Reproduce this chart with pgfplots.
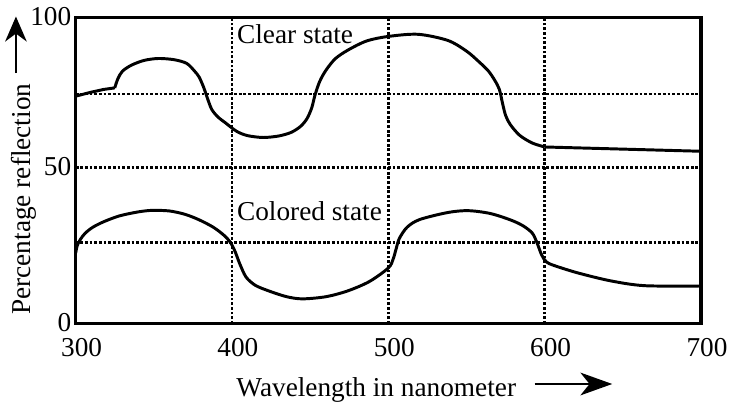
\documentclass[border=0pt]{standalone}
\usepackage{fontspec}
\setmainfont{Liberation Serif}
\usepackage{pgfplots}
\pgfplotsset{compat=1.18}
\usetikzlibrary{arrows.meta}
\begin{document}
\begin{tikzpicture}[font=\fontsize{12}{14.4}\selectfont]
\begin{axis}[
  scale only axis, width=275.1pt, height=134.7pt,
  xmin=300, xmax=700, ymin=0, ymax=100,
  xtick={300,400,500,600,700},
  ytick={0,26.5,51,75,100}, yticklabels={0,,50,,100},
  major tick length=0pt,
  grid=major,
  grid style={black, line width=1.25pt, dash pattern=on 1.25pt off 0.8pt},
  axis line style={black, line width=1.5pt},
  clip=false,
  /pgf/number format/assume math mode=true,
  xticklabel style={inner ysep=0pt, yshift=-6.2pt, xshift=2.6pt},
  yticklabel style={inner xsep=0pt, xshift=-1.75pt, yshift=0.3pt},
]
% Clear state
\addplot[black, line width=1.3pt] coordinates {
 (300,74.3) (310,75.6) (318,76.5) (325,77.0)};
\addplot[black, line width=1.3pt, smooth] coordinates {
 (325,77.0) (327,80) (330,82.5) (336,84.5) (344,86) (353,86.6) (363,86.2)
 (371,85) (376,82.5) (379,80.5) (382,77) (384,74) (387,70) (391,67.5)
 (396,65.5) (403,62.8) (410,61.4) (420,60.8) (430,61.3) (438,62.5)
 (444,64.5) (448,67) (451,70.5) (453,74.5) (456,79) (460,82.7) (466,86.5)
 (474,89.3) (486,92.3) (500,93.8) (519,94.5) (538,92.5) (550,89) (558,85.5)
 (564,82.5) (568,79.5) (571,76.5) (573,72) (575,68) (578,65) (584,61.5)
 (592,59) (600,57.7)};
\addplot[black, line width=1.3pt] coordinates {(600,57.7) (700,56.3)};
% Colored state
\addplot[black, line width=1.3pt, smooth] coordinates {
 (300,23) (301,25.5) (303,27.5) (306,29.5) (311,31.5) (318,33.3) (328,35.2)
 (340,36.5) (349,37.0) (360,36.8) (370,35.7) (379,33.9) (388,31.5)
 (395,28.8) (399,26.5) (402,23.5) (405,19.5) (409,15.2) (415,12.5)
 (424,10.6) (435,8.8) (445,8.1) (460,8.8) (474,10.7) (488,13.8) (500,18.2)
 (503,21) (505,24.5) (507,27.8) (512,31.5) (520,34) (538,36.3) (551,36.9)
 (565,36) (578,33.9) (586,32) (592,29.6) (595,26.5) (598,22.5) (601,20.2)
 (606,19) (621,16.6) (642,14) (664,12.4) (700,12.3)};
\node[anchor=base west, inner sep=0pt] at (axis cs:403,91.5) {Clear state};
\node[anchor=base west, inner sep=0pt] at (axis cs:403,33.7) {Colored state};
\node[anchor=base, rotate=90, inner sep=0pt] at (rel axis cs:-0.0717,0.4065) {Percentage reflection};
\draw[line width=0.9pt, -{Stealth[length=11pt, width=9.5pt, inset=3.5pt]}]
  (rel axis cs:-0.0955,0.818) -- (rel axis cs:-0.0955,1.003);
\node[anchor=base west, inner sep=0pt] at (rel axis cs:0.2564,-0.237) {Wavelength in nanometer};
\draw[line width=0.9pt, -{Stealth[length=14pt, width=10pt, inset=4pt]}]
  (rel axis cs:0.734,-0.197) -- (rel axis cs:0.858,-0.197);
\path (rel axis cs:-0.121,-0.2553) rectangle (rel axis cs:1.0494,1.0455);
\end{axis}
\end{tikzpicture}
\end{document}
